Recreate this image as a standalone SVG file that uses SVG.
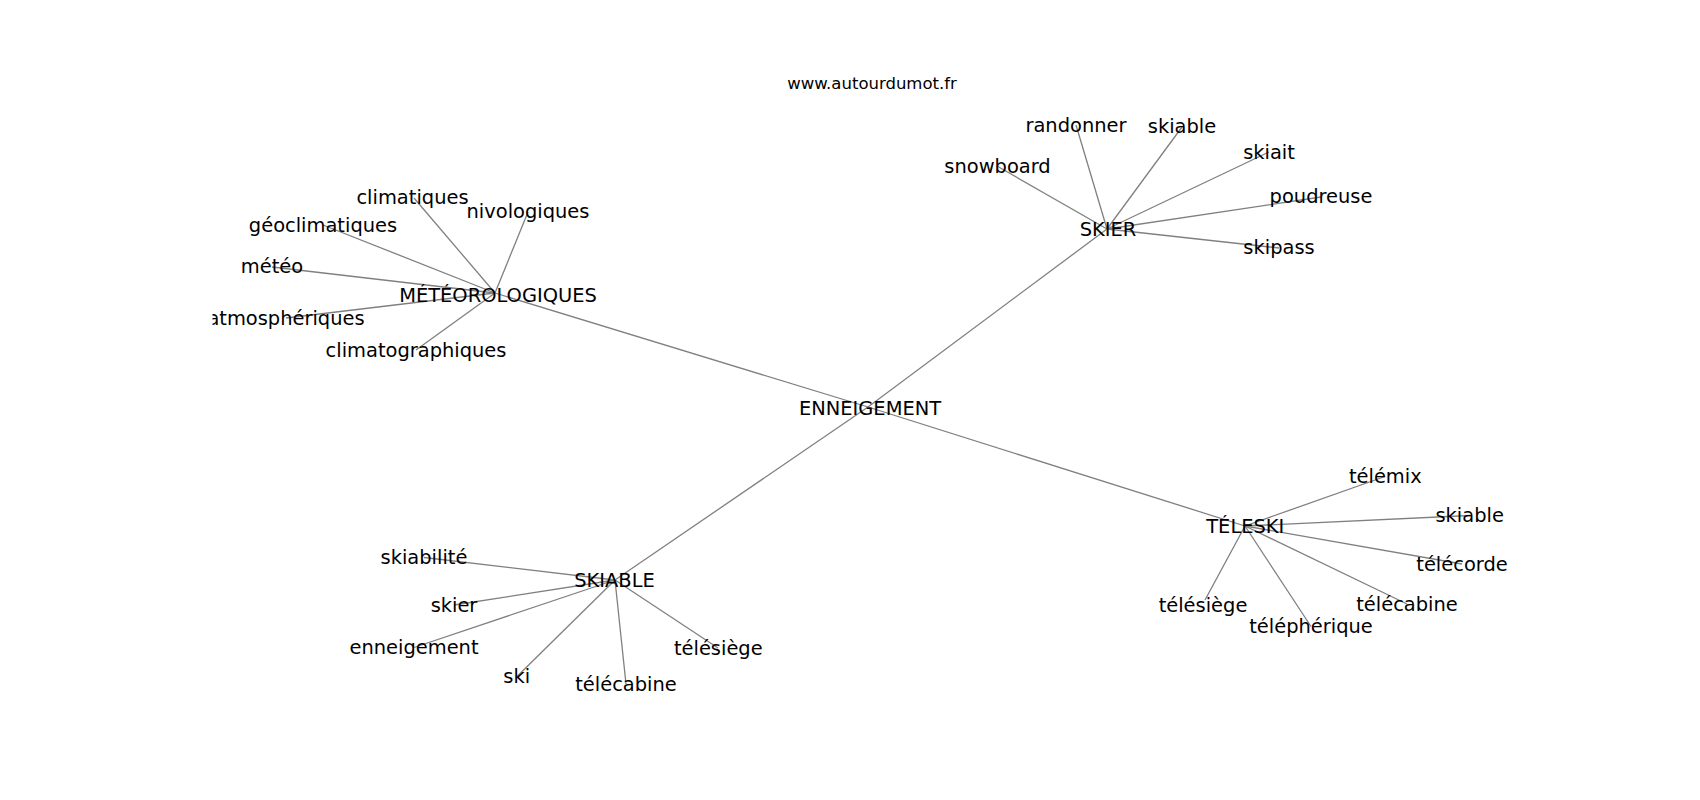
<svg xmlns="http://www.w3.org/2000/svg" width="1700" height="800" viewBox="0 0 1700 800">
<style>
text{font-family:"DejaVu Sans","Liberation Sans",sans-serif;fill:#000}
.lbl{font-size:19.44px;text-anchor:middle}
.title{font-size:16.5px;text-anchor:middle}
#edges line{stroke:#808080;stroke-width:1.3}
</style>
<defs><clipPath id="ax"><rect x="212.5" y="96" width="1317.5" height="616"/></clipPath></defs>
<rect width="1700" height="800" fill="#fff"/>
<text class="title" x="872" y="89">www.autourdumot.fr</text>
<g clip-path="url(#ax)">
<g id="edges">
<line x1="868" y1="407" x2="495" y2="293"/>
<line x1="868" y1="407" x2="1107" y2="229"/>
<line x1="868" y1="407" x2="1245" y2="526"/>
<line x1="868" y1="407" x2="615" y2="580"/>
<line x1="495" y1="293" x2="414" y2="198"/>
<line x1="495" y1="293" x2="528" y2="212"/>
<line x1="495" y1="293" x2="323" y2="225"/>
<line x1="495" y1="293" x2="272" y2="267"/>
<line x1="495" y1="293" x2="286" y2="318"/>
<line x1="495" y1="293" x2="416" y2="350"/>
<line x1="1107" y1="229" x2="1076" y2="125"/>
<line x1="1107" y1="229" x2="1182" y2="127"/>
<line x1="1107" y1="229" x2="1269" y2="152"/>
<line x1="1107" y1="229" x2="997" y2="166"/>
<line x1="1107" y1="229" x2="1321" y2="197"/>
<line x1="1107" y1="229" x2="1279" y2="248"/>
<line x1="1245" y1="526" x2="1385" y2="476.5"/>
<line x1="1245" y1="526" x2="1470" y2="515.5"/>
<line x1="1245" y1="526" x2="1462" y2="564"/>
<line x1="1245" y1="526" x2="1407" y2="604"/>
<line x1="1245" y1="526" x2="1311" y2="626.5"/>
<line x1="1245" y1="526" x2="1205" y2="600"/>
<line x1="615" y1="580" x2="424" y2="557.5"/>
<line x1="615" y1="580" x2="454" y2="605"/>
<line x1="615" y1="580" x2="414" y2="647.5"/>
<line x1="615" y1="580" x2="517" y2="676.5"/>
<line x1="615" y1="580" x2="626" y2="684"/>
<line x1="615" y1="580" x2="718" y2="648"/>
</g>
<g id="n-enneigement"><text class="lbl" x="870" y="414.5">ENNEIGEMENT</text></g>
<g id="n-meteorologiques"><text class="lbl" x="498" y="302">MÉTÉOROLOGIQUES</text></g>
<g id="n-climatiques"><text class="lbl" x="412.5" y="204">climatiques</text></g>
<g id="n-nivologiques"><text class="lbl" x="528" y="218">nivologiques</text></g>
<g id="n-geoclimatiques"><text class="lbl" x="323" y="231.5">géoclimatiques</text></g>
<g id="n-meteo"><text class="lbl" x="272" y="273">météo</text></g>
<g id="n-atmospheriques"><text class="lbl" x="286" y="324.8">atmosphériques</text></g>
<g id="n-climatographiques"><text class="lbl" x="416" y="356.5">climatographiques</text></g>
<g id="n-skier-hub"><text class="lbl" x="1108" y="235.5">SKIER</text></g>
<g id="n-randonner"><text class="lbl" x="1076" y="131.5">randonner</text></g>
<g id="n-skiable-1"><text class="lbl" x="1182" y="133">skiable</text></g>
<g id="n-skiait"><text class="lbl" x="1269" y="158.8">skiait</text></g>
<g id="n-snowboard"><text class="lbl" x="997.5" y="172.5">snowboard</text></g>
<g id="n-poudreuse"><text class="lbl" x="1321" y="203">poudreuse</text></g>
<g id="n-skipass"><text class="lbl" x="1279" y="254">skipass</text></g>
<g id="n-teleski"><text class="lbl" x="1245.3" y="533">TÉLESKI</text></g>
<g id="n-telemix"><text class="lbl" x="1385.3" y="483">télémix</text></g>
<g id="n-skiable-2"><text class="lbl" x="1469.7" y="522">skiable</text></g>
<g id="n-telecorde"><text class="lbl" x="1462" y="570.8">télécorde</text></g>
<g id="n-telecabine-1"><text class="lbl" x="1407" y="610.8">télécabine</text></g>
<g id="n-telepherique"><text class="lbl" x="1311" y="633">téléphérique</text></g>
<g id="n-telesiege-1"><text class="lbl" x="1203" y="611.5">télésiège</text></g>
<g id="n-skiable-hub"><text class="lbl" x="614.5" y="586.5">SKIABLE</text></g>
<g id="n-skiabilite"><text class="lbl" x="424" y="564">skiabilité</text></g>
<g id="n-skier"><text class="lbl" x="454" y="611.5">skier</text></g>
<g id="n-enneigement-2"><text class="lbl" x="414" y="654">enneigement</text></g>
<g id="n-ski"><text class="lbl" x="516.7" y="683">ski</text></g>
<g id="n-telecabine-2"><text class="lbl" x="626" y="690.5">télécabine</text></g>
<g id="n-telesiege-2"><text class="lbl" x="718.3" y="654.8">télésiège</text></g>
</g>
</svg>
